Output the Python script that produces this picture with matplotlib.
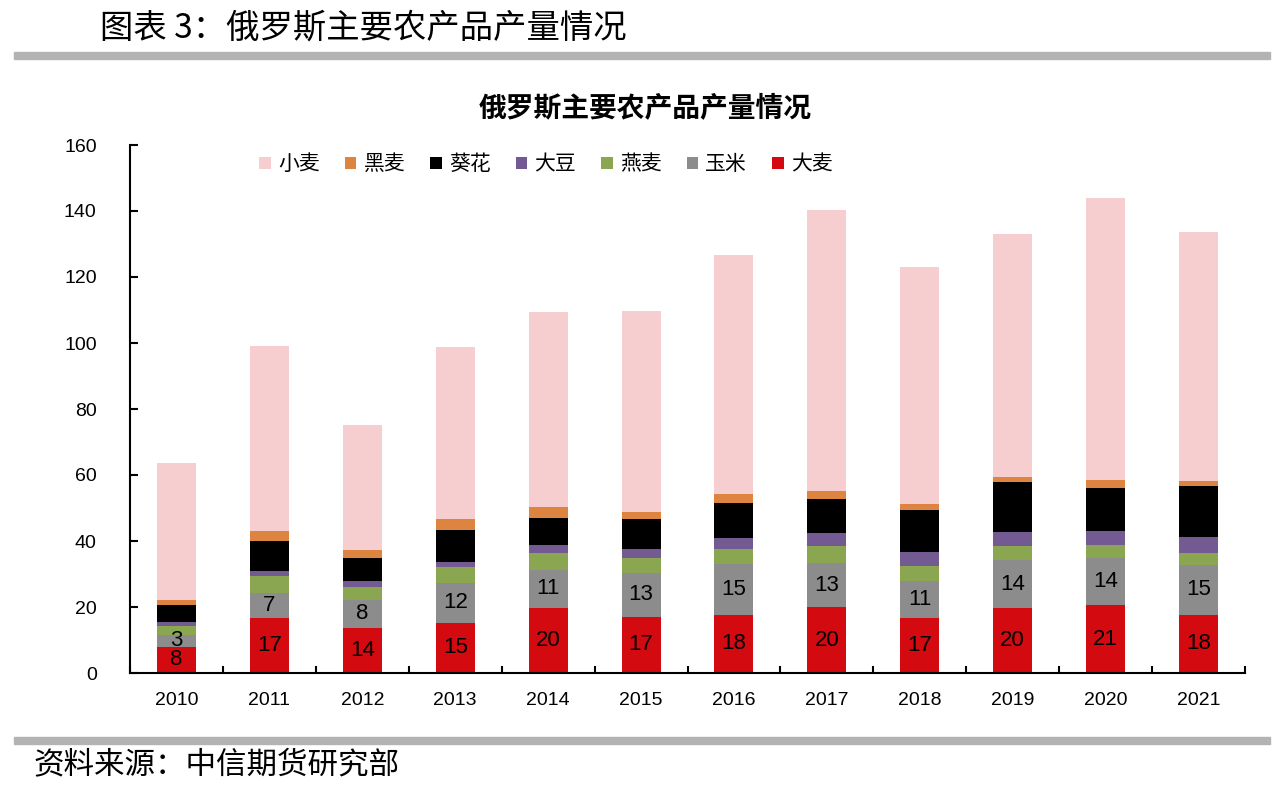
import numpy as np
import matplotlib.pyplot as plt
from matplotlib.patches import Rectangle

plt.rcParams['font.family'] = ['Liberation Sans', 'Noto Sans CJK SC', 'DejaVu Sans']

years = ["2010", "2011", "2012", "2013", "2014", "2015", "2016", "2017", "2018", "2019", "2020", "2021"]
# stacked from bottom up
barley    = [8.0, 16.8, 13.7, 15.2, 19.8, 17.0, 17.7, 19.9, 16.6, 19.8, 20.6, 17.6]   # 大麦
corn      = [3.4, 7.3, 8.4, 12.2, 11.4, 13.4, 15.3, 13.4, 11.4, 14.3, 14.2, 15.2]     # 玉米
oats      = [2.8, 5.3, 4.1, 4.6, 5.2, 4.4, 4.6, 5.3, 4.5, 4.3, 4.0, 3.6]             # 燕麦
soybean   = [1.3, 1.5, 1.6, 1.6, 2.3, 2.7, 3.2, 3.7, 4.1, 4.3, 4.3, 4.8]             # 大豆
sunflower = [5.0, 9.1, 7.2, 9.8, 8.3, 9.2, 10.7, 10.3, 12.7, 15.3, 13.1, 15.4]       # 葵花
rye       = [1.5, 3.1, 2.4, 3.3, 3.2, 2.1, 2.6, 2.6, 1.9, 1.4, 2.4, 1.6]             # 黑麦
wheat     = [41.6, 56.0, 37.6, 52.1, 59.1, 60.8, 72.5, 85.1, 71.7, 73.5, 85.2, 75.4]  # 小麦

names  = ["大麦", "玉米", "燕麦", "大豆", "葵花", "黑麦", "小麦"]
series = [barley, corn, oats, soybean, sunflower, rye, wheat]
colors = ["#D30A10", "#8C8C8C", "#8AA650", "#735A92", "#000000", "#DD8441", "#F6CED0"]

fig = plt.figure(figsize=(12.84, 7.86), dpi=100)
ax = fig.add_axes([130 / 1284, 1 - 673 / 786, 1115 / 1284, 528 / 786])

x = np.arange(len(years))
bottom = np.zeros(len(years))
handles = []
for name, vals, c in zip(names, series, colors):
    vals = np.array(vals)
    bars = ax.bar(x, vals, 0.42, bottom=bottom, color=c, label=name, zorder=2)
    handles.append(bars)
    if name in ("大麦", "玉米"):
        ax.bar_label(bars, labels=["%d" % round(v + 1e-9) for v in vals], label_type="center",
                     fontsize=16, color="black")
    bottom += vals

ax.set_xlim(-0.5, len(years) - 0.5)
ax.set_ylim(0, 160)
ax.set_yticks(range(0, 161, 20))
ax.set_xticks(x)
ax.set_xticklabels(years)
ax.set_xticks(np.arange(-0.5, len(years), 1), minor=True)
ax.tick_params(axis="x", which="major", length=0, labelsize=14, pad=14)
ax.tick_params(axis="x", which="minor", direction="in", length=5, width=1.5)
ax.tick_params(axis="y", direction="in", length=6, width=1.5, labelsize=14, pad=24)

for side in ("top", "right"):
    ax.spines[side].set_visible(False)
ax.spines["left"].set_linewidth(1.5)
ax.spines["bottom"].set_linewidth(1.5)

leg = ax.legend(handles=handles[::-1], ncol=7, loc="center", bbox_to_anchor=(0.373, 0.963),
                frameon=False, fontsize=15, handlelength=0.55, handleheight=0.55,
                handletextpad=0.35, columnspacing=1.2)

fig.text(645 / 1284, 1 - 108 / 786, "俄罗斯主要农产品产量情况", ha="center", va="center",
         fontsize=20, fontweight="bold", family=["Noto Sans CJK SC"])
fig.text(100 / 1284, 1 - 28 / 786, "图表 3：俄罗斯主要农产品产量情况", ha="left", va="center",
         fontsize=24, family=["Noto Sans CJK SC"])
fig.text(33 / 1284, 1 - 765 / 786, "资料来源：中信期货研究部", ha="left", va="center",
         fontsize=22, family=["Noto Sans CJK SC"])

fig.patches.append(Rectangle((14 / 1284, 1 - 59 / 786), 1256 / 1284, 7 / 786,
                             transform=fig.transFigure, color="#B3B3B3", zorder=0))
fig.patches.append(Rectangle((14 / 1284, 1 - 744 / 786), 1256 / 1284, 7 / 786,
                             transform=fig.transFigure, color="#B3B3B3", zorder=0))

fig.savefig("out.png", dpi=100)
